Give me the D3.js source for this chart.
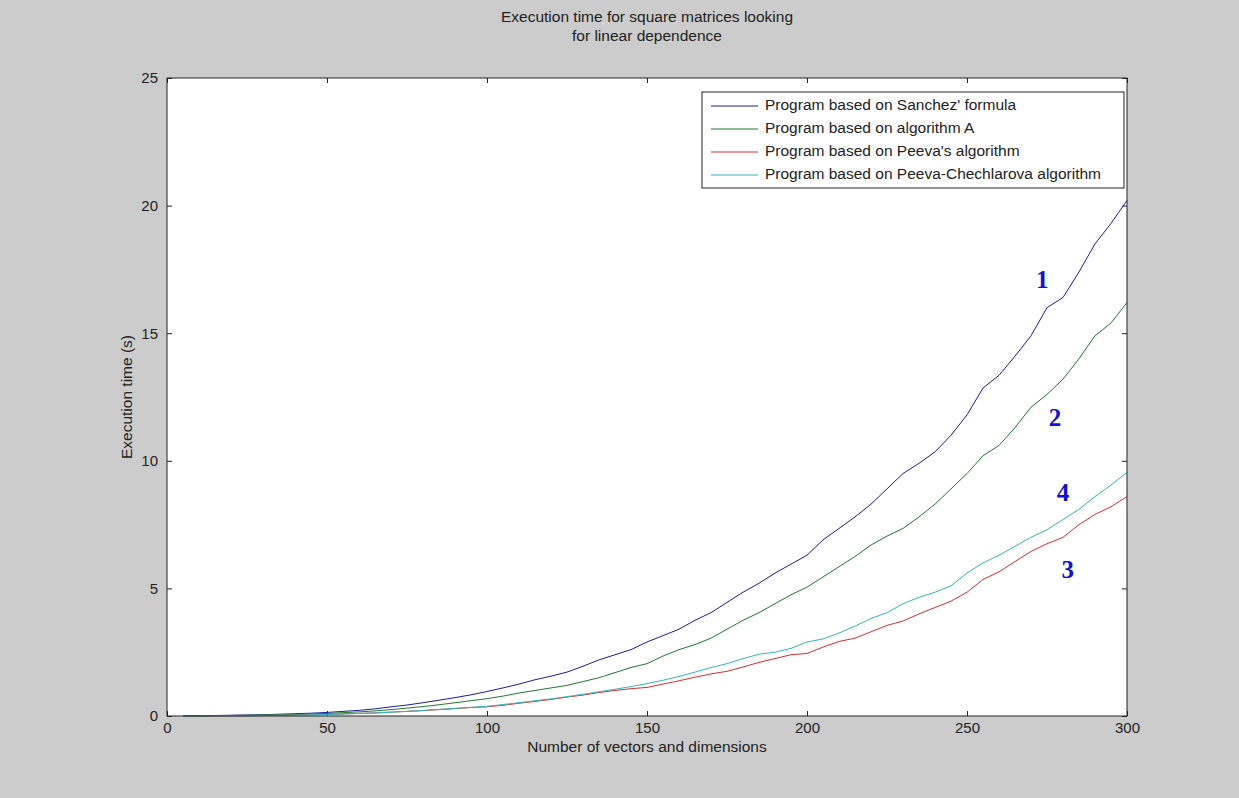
<!DOCTYPE html>
<html>
<head>
<meta charset="utf-8">
<script src="https://cdn.jsdelivr.net/npm/d3@7"></script>
<style>
  html, body { margin: 0; padding: 0; background: #cccccc; }
  svg { display: block; }
</style>
</head>
<body>
<svg id="chart" width="1239" height="798"></svg>
<script>
const xValues = d3.range(5, 301, 5);
const sanchez = [0.01,0.01,0.02,0.03,0.04,0.05,0.07,0.09,0.11,0.14,0.18,0.22,0.28,0.36,0.43,0.52,0.62,0.72,0.83,0.96,1.1,1.25,1.42,1.56,1.72,1.95,2.2,2.4,2.6,2.9,3.15,3.4,3.75,4.05,4.45,4.85,5.2,5.6,5.95,6.3,6.9,7.35,7.8,8.3,8.9,9.5,9.9,10.35,11.0,11.8,12.85,13.35,14.1,14.9,16.0,16.4,17.4,18.5,19.3,20.2];
const algorithmA = [0.01,0.01,0.01,0.02,0.03,0.04,0.05,0.06,0.08,0.1,0.13,0.16,0.2,0.25,0.31,0.37,0.44,0.52,0.6,0.68,0.78,0.9,1.0,1.1,1.2,1.35,1.5,1.7,1.9,2.05,2.35,2.6,2.8,3.05,3.4,3.75,4.05,4.4,4.75,5.05,5.45,5.85,6.25,6.7,7.05,7.35,7.8,8.3,8.9,9.5,10.2,10.6,11.3,12.1,12.6,13.2,14.0,14.9,15.4,16.2];
const peeva = [0.0,0.0,0.01,0.01,0.01,0.02,0.03,0.04,0.05,0.06,0.08,0.1,0.12,0.15,0.18,0.21,0.25,0.29,0.33,0.36,0.42,0.5,0.57,0.65,0.74,0.82,0.92,1.0,1.07,1.12,1.25,1.38,1.52,1.65,1.75,1.92,2.1,2.25,2.4,2.45,2.7,2.92,3.05,3.3,3.55,3.72,4.0,4.25,4.5,4.85,5.35,5.65,6.05,6.45,6.75,7.0,7.5,7.9,8.2,8.6];
const peevaChechlarova = [0.0,0.0,0.01,0.01,0.01,0.02,0.03,0.04,0.05,0.06,0.08,0.1,0.12,0.15,0.18,0.22,0.26,0.3,0.34,0.38,0.45,0.52,0.6,0.67,0.76,0.85,0.95,1.05,1.15,1.27,1.4,1.55,1.72,1.9,2.05,2.25,2.42,2.5,2.65,2.9,3.02,3.25,3.52,3.82,4.05,4.4,4.65,4.85,5.1,5.6,6.0,6.3,6.65,7.0,7.3,7.7,8.1,8.6,9.05,9.55];

const seriesNames = ["Program based on Sanchez' formula","Program based on algorithm A","Program based on Peeva's algorithm","Program based on Peeva-Chechlarova algorithm"];
const seriesValues = [sanchez, algorithmA, peeva, peevaChechlarova];
const seriesColors = ["#1c1c9a","#1e7a2e","#d03030","#30b8b8"];

const xTicks = [0,50,100,150,200,250,300];
const yTicks = [0,5,10,15,20,25];

const curveLabels = [
  {text:"1", x:273.5, y:17.0},
  {text:"2", x:277.5, y:11.6},
  {text:"4", x:280, y:8.65},
  {text:"3", x:281.5, y:5.65}
];

const title = ["Execution time for square matrices looking","for linear dependence"];
const xLabel = "Number of vectors and dimensions";
const yLabel = "Execution time (s)";

const SANS = "'Liberation Sans', Arial, sans-serif";
const FS = "15px";

const svg = d3.select("#chart");
const L = 167, R = 1127, T = 78, B = 716;

const x = d3.scaleLinear().domain([0,300]).range([L,R]);
const y = d3.scaleLinear().domain([0,25]).range([B,T]);

svg.append("rect").attr("x",0).attr("y",0).attr("width",1239).attr("height",798).attr("fill","#cccccc");
svg.append("rect").attr("x",L).attr("y",T).attr("width",R-L).attr("height",B-T).attr("fill","#ffffff");

function styleText(sel){
  sel.style("font-family",SANS).style("font-size",FS).style("fill","#222");
}

const tickLen = 5;
svg.append("g").attr("transform",`translate(0,${B})`)
  .call(d3.axisBottom(x).tickValues(xTicks).tickSizeInner(-tickLen).tickSizeOuter(0).tickPadding(6).tickFormat(d3.format("d")))
  .call(g=>g.select(".domain").remove())
  .call(g=>styleText(g.selectAll("text")));
svg.append("g").attr("transform",`translate(0,${T})`)
  .call(d3.axisTop(x).tickValues(xTicks).tickSizeInner(-tickLen).tickSizeOuter(0).tickFormat(""))
  .call(g=>g.select(".domain").remove());
svg.append("g").attr("transform",`translate(${L},0)`)
  .call(d3.axisLeft(y).tickValues(yTicks).tickSizeInner(-tickLen).tickSizeOuter(0).tickPadding(9).tickFormat(d3.format("d")))
  .call(g=>g.select(".domain").remove())
  .call(g=>styleText(g.selectAll("text")));
svg.append("g").attr("transform",`translate(${R},0)`)
  .call(d3.axisRight(y).tickValues(yTicks).tickSizeInner(-tickLen).tickSizeOuter(0).tickFormat(""))
  .call(g=>g.select(".domain").remove());
svg.selectAll(".tick line").attr("stroke","#222");

const line = d3.line().x((d,i)=>x(xValues[i])).y(d=>y(d));
const plot = svg.append("g");
seriesValues.forEach((vals,i)=>{
  plot.append("path").datum(vals).attr("d",line)
    .attr("fill","none").attr("stroke",seriesColors[i]).attr("stroke-width",1);
});

svg.append("rect").attr("x",L).attr("y",T).attr("width",R-L).attr("height",B-T)
  .attr("fill","none").attr("stroke","#222").attr("stroke-width",1);

svg.append("g").selectAll("text").data(curveLabels).join("text")
  .attr("x",d=>x(d.x)).attr("y",d=>y(d.y))
  .attr("text-anchor","middle").attr("dominant-baseline","middle")
  .style("font-family","'Liberation Serif','DejaVu Serif',serif")
  .style("font-weight","bold").style("font-size","25px")
  .style("fill","#1010e0")
  .text(d=>d.text);

const lg = svg.append("g");
const lx = 702, ly = 92, lw = 422, lh = 96;
lg.append("rect").attr("x",lx).attr("y",ly).attr("width",lw).attr("height",lh)
  .attr("fill","#ffffff").attr("stroke","#222").attr("stroke-width",1);
seriesNames.forEach((name,i)=>{
  const cy = ly + 14 + i*23;
  lg.append("line").attr("x1",lx+9).attr("x2",lx+56).attr("y1",cy).attr("y2",cy)
    .attr("stroke",seriesColors[i]).attr("stroke-width",1);
  lg.append("text").attr("x",lx+63).attr("y",cy).attr("dominant-baseline","middle")
    .call(styleText).style("font-size","15.5px").text(name);
});

svg.append("text").attr("x",(L+R)/2).attr("y",18).attr("text-anchor","middle")
  .attr("dominant-baseline","middle").call(styleText).style("font-size","15.5px").text(title[0]);
svg.append("text").attr("x",(L+R)/2).attr("y",37).attr("text-anchor","middle")
  .attr("dominant-baseline","middle").call(styleText).style("font-size","15.5px").text(title[1]);
svg.append("text").attr("x",(L+R)/2).attr("y",748).attr("text-anchor","middle")
  .attr("dominant-baseline","middle").call(styleText).style("font-size","15.5px").text(xLabel);
svg.append("text").attr("transform",`translate(128,${(T+B)/2}) rotate(-90)`)
  .attr("text-anchor","middle").attr("dominant-baseline","middle").call(styleText).style("font-size","15.5px").text(yLabel);
</script>
</body>
</html>
